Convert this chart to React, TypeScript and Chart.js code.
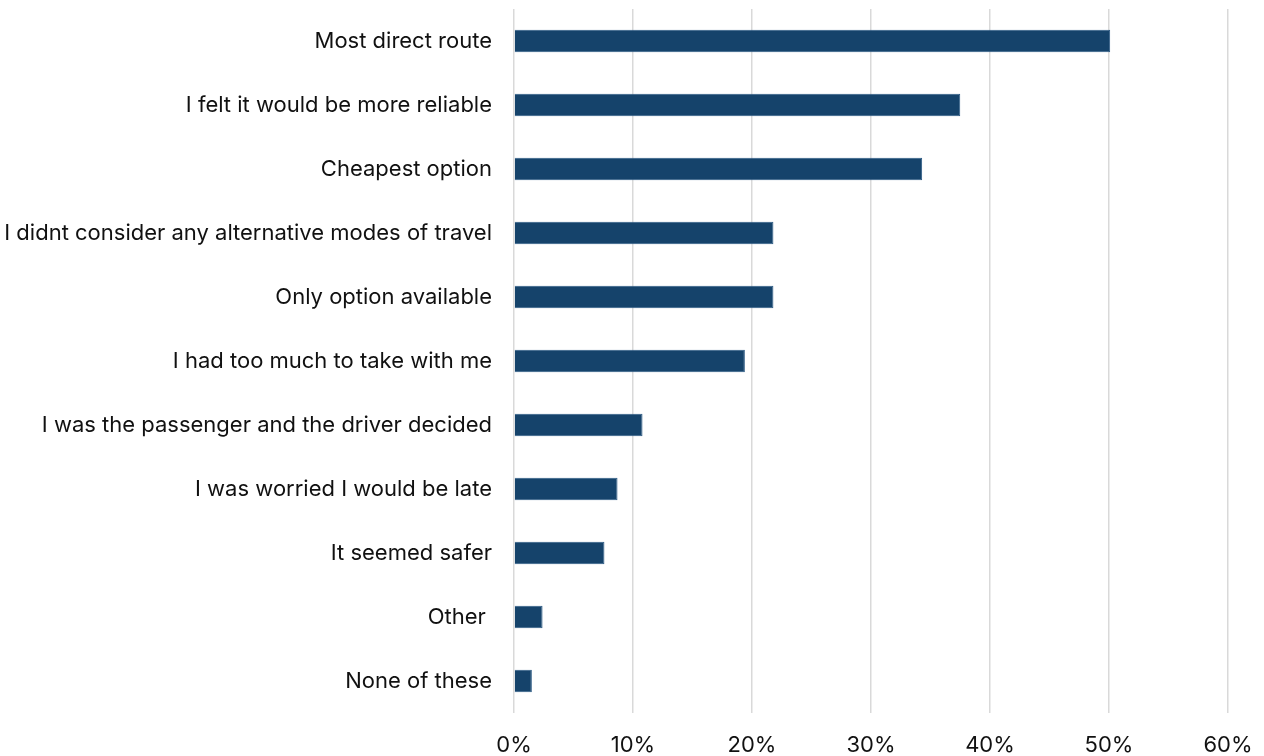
import React, { useEffect, useRef } from "react";
import { Chart, registerables } from "chart.js";

Chart.register(...registerables);

const categories = [
  "Most direct route",
  "I felt it would be more reliable",
  "Cheapest option",
  "I didnt consider any alternative modes of travel",
  "Only option available",
  "I had too much to take with me",
  "I was the passenger and the driver decided",
  "I was worried I would be late",
  "It seemed safer",
  "Other ",
  "None of these",
];

const values = [50.1, 37.5, 34.3, 21.8, 21.8, 19.4, 10.8, 8.7, 7.6, 2.4, 1.5];

const xTicks = [0, 10, 20, 30, 40, 50, 60];

const FONT = "Inter, 'Noto Sans', sans-serif";

export default function App() {
  const ref = useRef<HTMLCanvasElement | null>(null);

  useEffect(() => {
    if (!ref.current) return;
    const chart = new Chart(ref.current, {
      type: "bar",
      data: {
        labels: categories,
        datasets: [
          {
            data: values,
            backgroundColor: "#15436b",
            borderColor: "#2c5a84",
            borderWidth: 1,
            categoryPercentage: 1,
            barPercentage: 0.35,
          },
        ],
      },
      options: {
        indexAxis: "y",
        animation: false,
        responsive: false,
        maintainAspectRatio: false,
        layout: { padding: { top: 9, right: 36, left: 0, bottom: 0 } },
        plugins: { legend: { display: false }, tooltip: { enabled: false } },
        scales: {
          x: {
            min: 0,
            max: 60,
            afterBuildTicks: (scale: any) => {
              scale.ticks = xTicks.map((v) => ({ value: v }));
            },
            afterFit: (scale: any) => {
              scale.height = 43;
              scale.paddingLeft = 0;
              scale.paddingRight = 0;
            },
            grid: { color: "#d9d9d9", lineWidth: 1.5, drawTicks: false },
            border: { display: false },
            ticks: {
              padding: 19,
              color: "#111111",
              font: { family: FONT, size: 22 },
              callback: (v: any) => `${v}%`,
              maxRotation: 0,
            },
          },
          y: {
            afterFit: (scale: any) => {
              scale.width = 514;
              scale.paddingTop = 0;
              scale.paddingBottom = 0;
            },
            grid: { display: false, drawTicks: false },
            border: { display: false },
            ticks: {
              padding: 22,
              color: "#111111",
              font: { family: FONT, size: 22 },
            },
          },
        },
      },
    });
    return () => chart.destroy();
  }, []);

  return (
    <div style={{ position: "absolute", left: 0, top: 0, width: 1264, height: 756, background: "#fff" }}>
      <canvas ref={ref} width={1264} height={756} style={{ width: 1264, height: 756 }} />
    </div>
  );
}
